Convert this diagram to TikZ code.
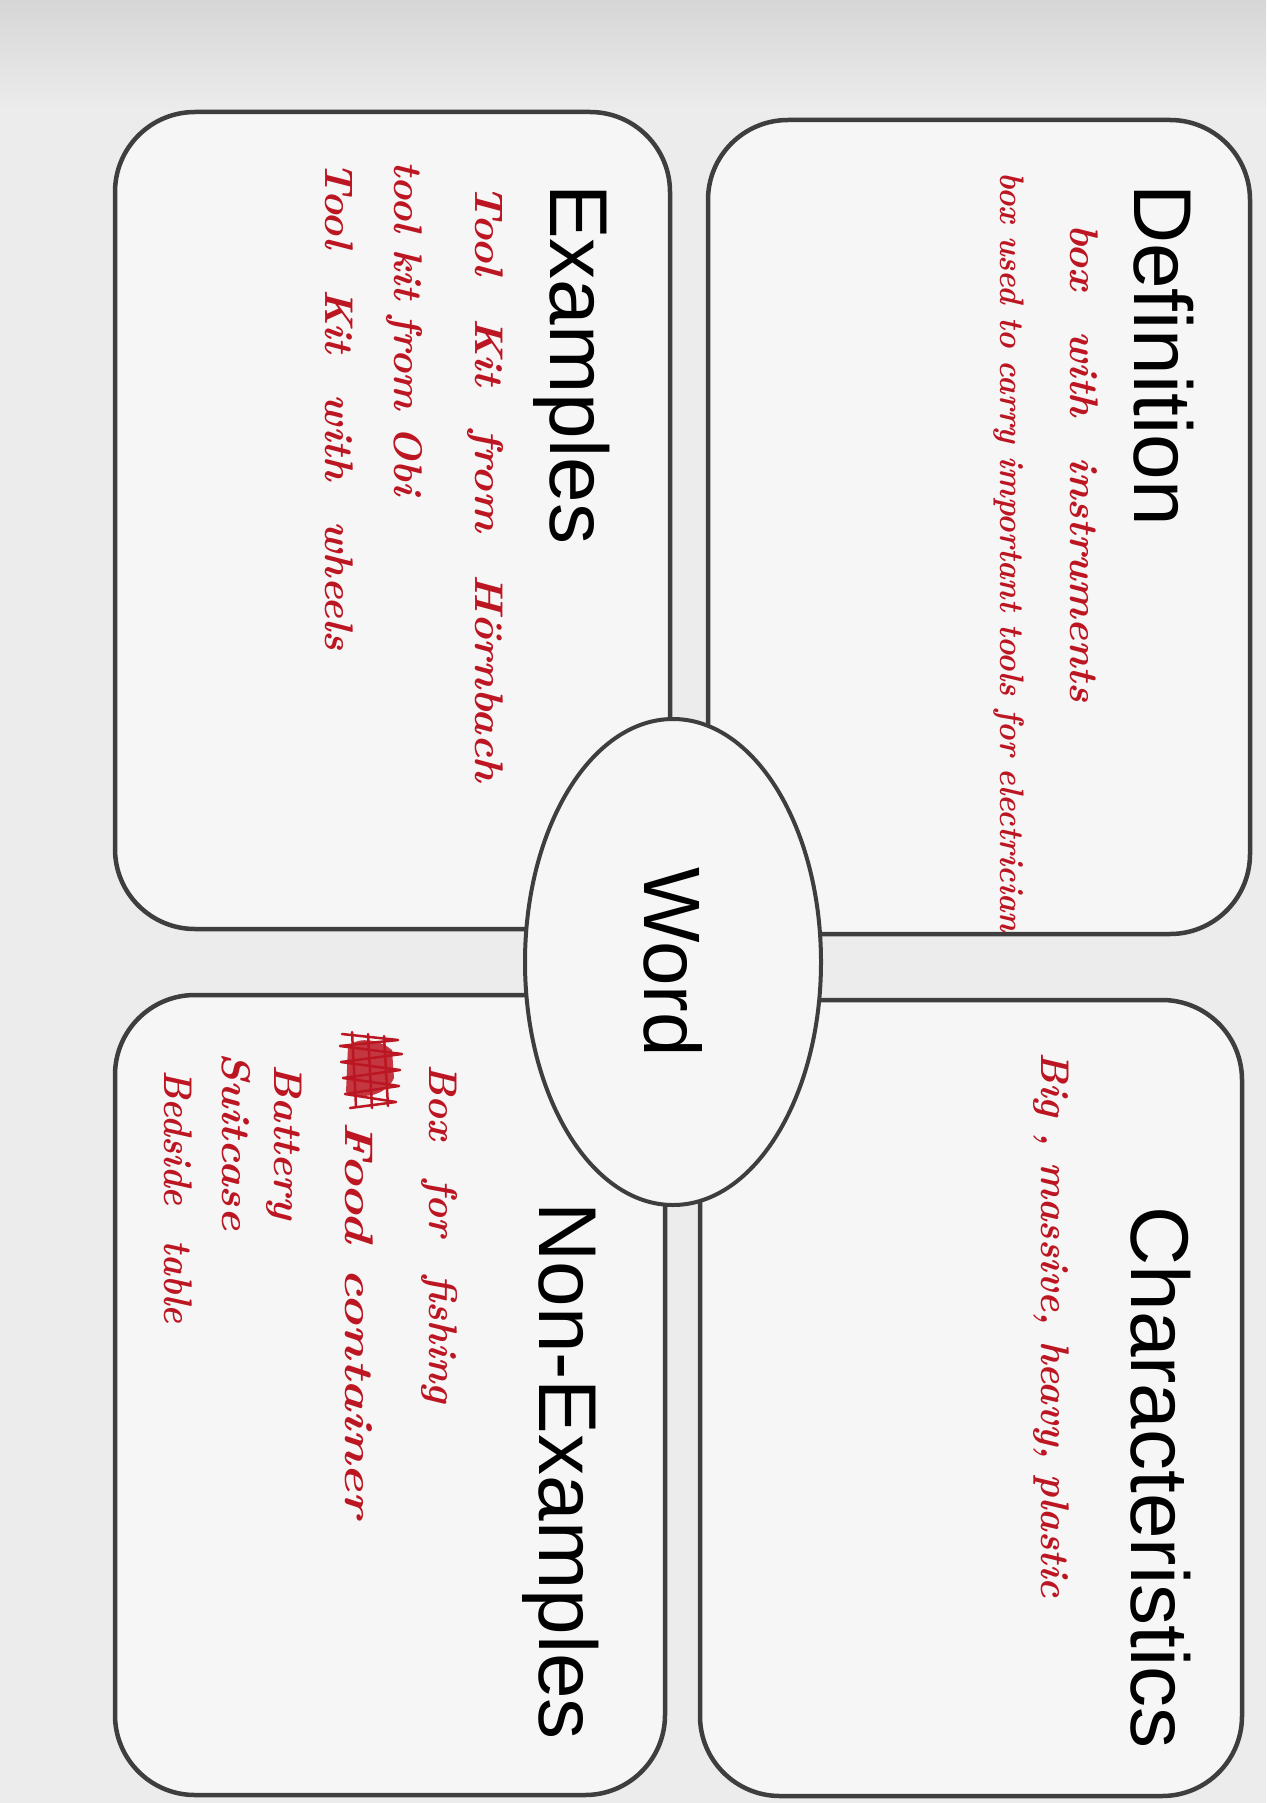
\documentclass[tikz,border=0pt]{standalone}
\usepackage{fontspec}
\usepackage{graphicx}
\usetikzlibrary{shapes.geometric}
\newfontfamily\titlefont{Liberation Sans}
\definecolor{ink}{RGB}{188,22,34}
\definecolor{edgegray}{RGB}{62,62,62}
\definecolor{paper}{RGB}{236,236,236}
\definecolor{paperdark}{RGB}{214,214,214}
\definecolor{cardfill}{RGB}{246,246,246}
\newcommand\hwline[2]{\resizebox{#1}{\height}{#2}}
\tikzset{
  card/.style={draw=edgegray, line width=4.5pt, rounded corners=80pt, fill=cardfill, inner sep=0pt},
  heading/.style={rotate=-90, anchor=base west, inner sep=0pt, text=black,
                  font=\titlefont\fontsize{82}{84}\selectfont},
  hand/.style={rotate=-90, anchor=base west, inner sep=0pt, text=ink,
               font=\fontsize{40}{40}\selectfont\bfseries\itshape},
  scrib/.style={draw=ink, line width=2.5pt, line join=round, line cap=round},
}
\begin{document}
\begin{tikzpicture}[x=1pt,y=-1pt]
  \fill[paper] (0,0) rectangle (1266,1803);
  \shade[top color=paperdark, bottom color=paper] (0,0) rectangle (1266,110);
  \useasboundingbox (0,0) rectangle (1266,1803);

  % four cards
  \node[card, minimum width=555pt, minimum height=817pt] (ex)  at (392.5,520.5) {};
  \node[card, minimum width=542pt, minimum height=814pt] (def) at (979,527) {};
  \node[card, minimum width=550pt, minimum height=800pt] (non) at (390,1395) {};
  \node[card, minimum width=542pt, minimum height=796pt] (cha) at (971,1398) {};

  % centre ellipse
  \node[ellipse, draw=edgegray, line width=4pt, fill=cardfill, rotate=-90,
        minimum width=486pt, minimum height=296pt, inner sep=0pt,
        font=\titlefont\fontsize{80}{82}\selectfont] (word) at (673,962) {Word};

  % headings
  \node[heading] (deft) at (1134,184) {Definition};
  \node[heading] (ext)  at (550,184)  {Examples};
  \node[heading] (chat) at (1131,1206) {Characteristics};
  \node[heading] (nont) at (539,1202) {Non-Examples};

  % definition notes
  \node[hand] (d1) at (1070,224) {\hwline{478pt}{box\quad with\quad instruments}};
  \node[hand, font=\fontsize{34}{34}\selectfont\bfseries\itshape] (d2) at (1000,172)
        {\hwline{760pt}{box used to carry important tools for electrician}};

  % characteristics notes
  \node[hand] (c1) at (1041,1052) {\hwline{546pt}{Big , massive, heavy, plastic}};

  % examples notes
  \node[hand] (e1) at (475,184) {\hwline{598pt}{Tool\quad Kit\quad from\quad Hörnbach}};
  \node[hand] (e2) at (394,161) {\hwline{334pt}{tool kit from Obi}};
  \node[hand] (e3) at (325,161) {\hwline{489pt}{Tool\quad Kit\quad with\quad wheels}};

  % non-examples notes
  \node[hand] (n1) at (429,1064) {\hwline{339pt}{Box\quad for\quad fishing}};
  \node[hand] (n2) at (345,1121) {\hwline{397pt}{Food\enspace container}};
  \node[hand] (n3) at (274,1064) {\hwline{155pt}{Battery}};
  \node[hand] (n4) at (222,1052) {\hwline{178pt}{Suitcase}};
  \node[hand] (n5) at (164,1070) {\hwline{253pt}{Bedside\quad table}};

  % crossed-out word (scribble)
  \fill[ink, opacity=0.85] (348,1046) .. controls (360,1036) and (380,1040) .. (392,1050)
        -- (394,1078) .. controls (386,1096) and (362,1100) .. (346,1092) -- cycle;
  \draw[scrib] (342,1034) -- (398,1040) -- (340,1046) -- (402,1054) -- (341,1062)
        -- (400,1070) -- (343,1078) -- (399,1086) -- (345,1094) -- (396,1102) -- (350,1108);
  \draw[scrib] (352,1032) -- (356,1106) (368,1034) -- (372,1108) (384,1036) -- (388,1106);
\end{tikzpicture}
\end{document}
